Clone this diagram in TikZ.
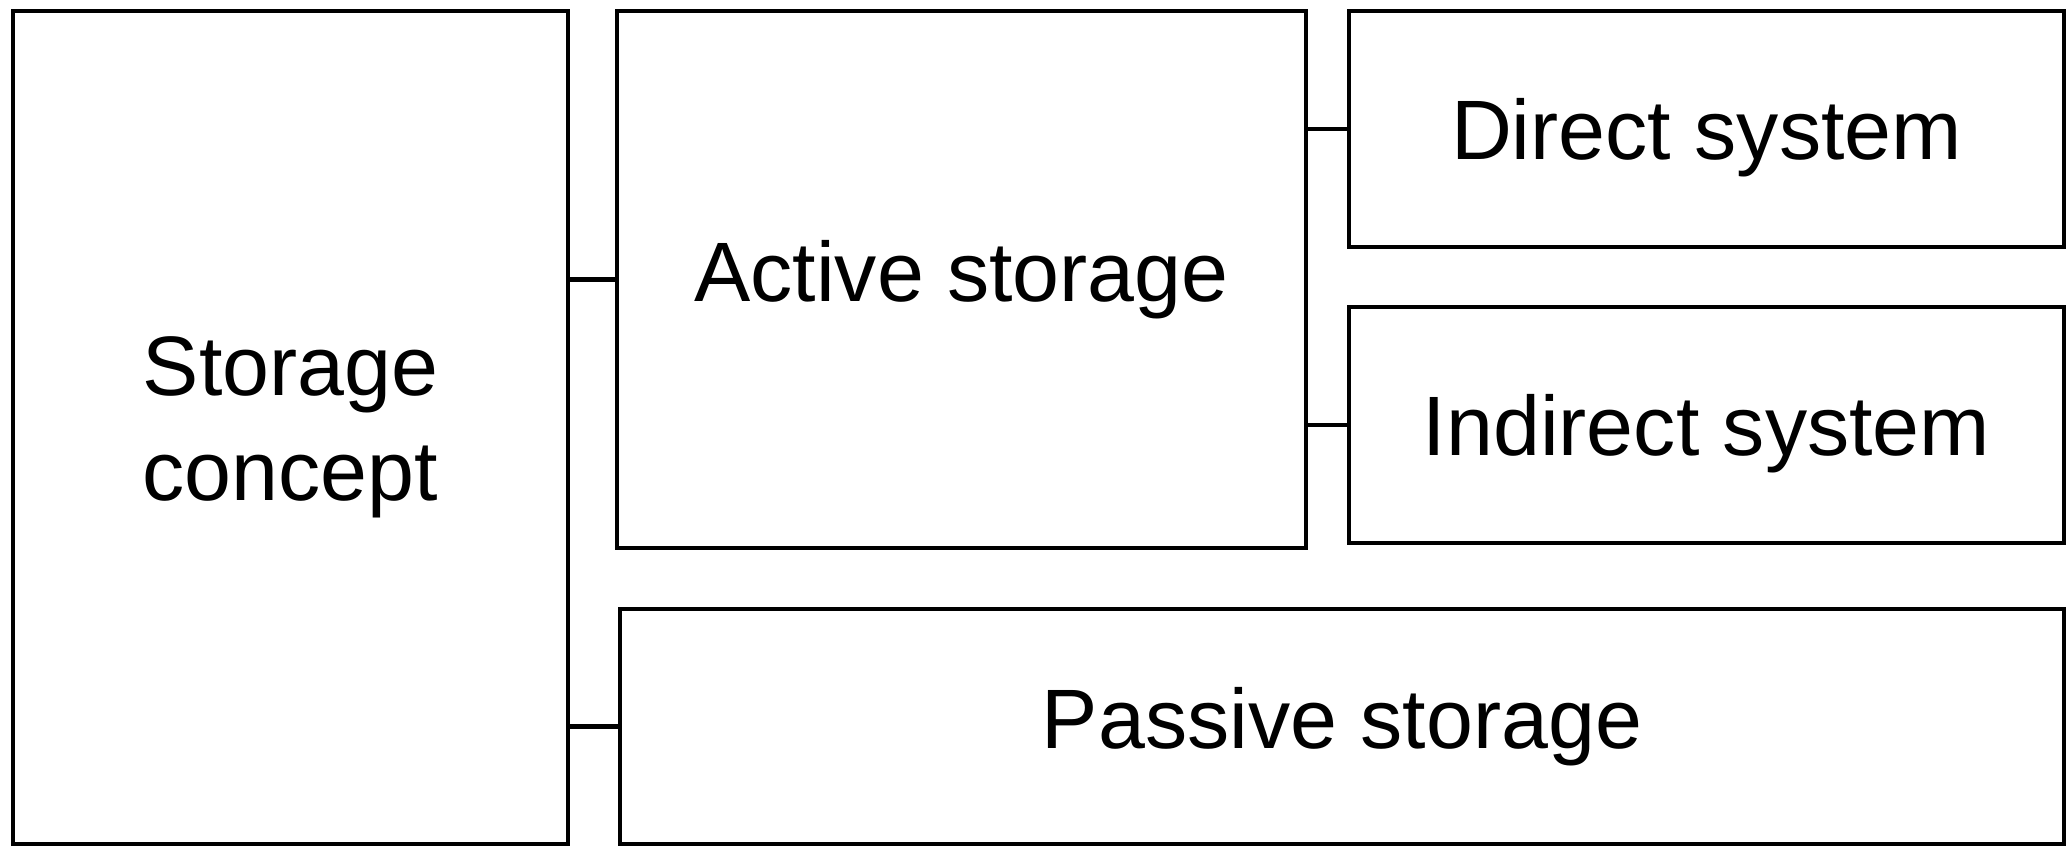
\documentclass[tikz,border=0pt]{standalone}
\usepackage{fontspec}
\setmainfont{Liberation Sans}
\usepackage{tikz}
\usetikzlibrary{calc}

\begin{document}
\begin{tikzpicture}[
    box/.style={draw, line width=1.3pt, anchor=north west, inner sep=0pt, outer sep=0pt,
        align=center, font=\fontsize{24}{30}\selectfont},
    link/.style={line width=1.3pt}
]
    % Page
    \useasboundingbox (0,0) rectangle (20.72,8.46);

    % Main box
    \node[box, minimum width=5.55cm, minimum height=8.33cm] (concept) at (0.13,8.35) {Storage\\concept};

    % Storage types
    \node[box, minimum width=6.89cm, minimum height=5.37cm] (active) at (6.17,8.35) {Active storage};
    \node[box, minimum width=14.44cm, minimum height=2.35cm] (passive) at (6.20,2.37) {Passive storage};

    % Active systems
    \node[box, text depth=0pt, minimum width=7.15cm, minimum height=2.36cm] (direct) at (13.49,8.35) {Direct system};
    \node[box, text depth=0pt, minimum width=7.15cm, minimum height=2.36cm] (indirect) at (13.49,5.39) {Indirect system};

    % Links
    \draw[link] (active.west) -- (active.west -| concept.east);
    \draw[link] (passive.west) -- (passive.west -| concept.east);
    \draw[link] (direct.west) -- (direct.west -| active.east);
    \draw[link] (indirect.west) -- (indirect.west -| active.east);
\end{tikzpicture}
\end{document}
